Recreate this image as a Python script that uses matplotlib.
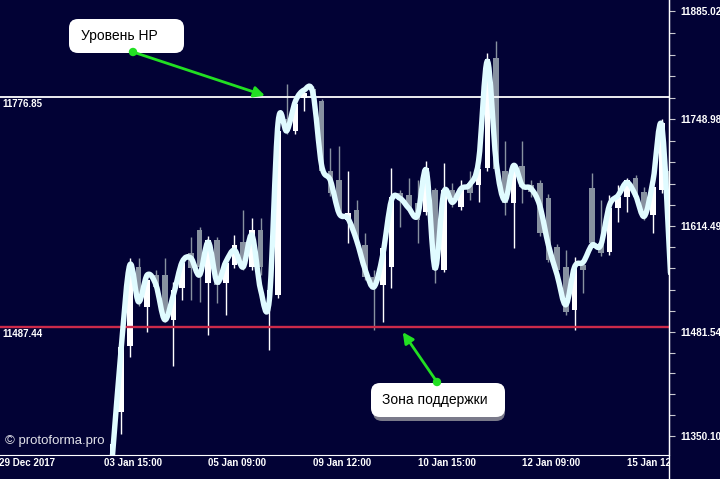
import numpy as np
import matplotlib.pyplot as plt
from matplotlib.path import Path
from matplotlib.patches import PathPatch, FancyBboxPatch, Circle
from matplotlib.lines import Line2D
from matplotlib.transforms import Bbox

# H4 candles, index 0 = "29 Dec 2017" at the left edge
first_bar = 12
opens = [11180.0, 11308.8, 11380.2, 11464.1, 11563.1, 11513.0, 11553.1, 11553.1, 11496.7, 11536.8,
         11580.6, 11609.4, 11543.0, 11596.9, 11543.0, 11565.6, 11594.4, 11563.1, 11609.4, 11521.7,
         11528.0, 11749.7, 11734.7, 11776.0, 11787.3, 11772.3, 11684.6, 11672.1, 11622.0, 11634.5,
         11590.6, 11550.6, 11540.5, 11563.1, 11655.8, 11653.3, 11643.3, 11632.0, 11659.5, 11559.3,
         11659.5, 11638.2, 11668.3, 11665.8, 11688.4, 11826.1, 11684.6, 11643.3, 11690.9, 11665.8,
         11668.3, 11649.5, 11588.1, 11563.1, 11509.2, 11565.6, 11662.0, 11593.1, 11581.9, 11637.0,
         11650.8, 11675.8, 11657.0, 11628.2, 11659.5, 11684.6]
highs = [11250.0, 11346.4, 11465.4, 11574.4, 11574.4, 11556.8, 11559.3, 11574.4, 11544.3, 11574.4,
         11600.7, 11613.2, 11601.9, 11600.7, 11574.4, 11603.2, 11634.5, 11624.5, 11624.5, 11540.5,
         11744.7, 11793.6, 11774.8, 11789.8, 11791.1, 11774.8, 11713.4, 11715.9, 11684.6, 11647.0,
         11605.7, 11559.3, 11590.6, 11688.4, 11659.5, 11674.6, 11672.1, 11697.1, 11662.0, 11694.6,
         11668.3, 11672.1, 11684.6, 11690.9, 11832.4, 11847.4, 11722.2, 11694.6, 11722.2, 11672.1,
         11672.1, 11654.5, 11591.9, 11584.4, 11575.6, 11569.3, 11682.1, 11647.0, 11653.3, 11665.8,
         11675.8, 11679.6, 11663.3, 11667.1, 11749.7, 11690.9]
lows = [11170.0, 11298.8, 11352.6, 11449.1, 11514.2, 11481.7, 11531.8, 11494.2, 11437.8, 11521.7,
        11521.7, 11519.2, 11477.9, 11518.0, 11503.0, 11561.8, 11559.3, 11559.3, 11553.1, 11459.1,
        11524.3, 11730.9, 11730.9, 11759.8, 11772.3, 11682.1, 11652.0, 11627.0, 11593.1, 11593.1,
        11546.8, 11484.2, 11494.2, 11536.8, 11613.2, 11632.0, 11593.1, 11628.2, 11543.0, 11556.8,
        11638.2, 11634.5, 11647.0, 11644.5, 11684.6, 11684.6, 11628.2, 11586.9, 11643.3, 11650.8,
        11601.9, 11569.3, 11553.1, 11503.0, 11484.2, 11530.5, 11589.4, 11576.9, 11578.1, 11619.5,
        11632.0, 11647.0, 11622.0, 11605.7, 11655.8, 11546.8]
closes = [11240.0, 11340.1, 11462.9, 11561.8, 11518.0, 11546.8, 11538.0, 11496.7, 11534.3, 11568.1,
          11561.8, 11563.1, 11596.9, 11540.5, 11568.1, 11590.6, 11563.1, 11609.4, 11563.1, 11534.3,
          11734.7, 11734.7, 11768.5, 11782.3, 11776.0, 11684.6, 11655.8, 11630.7, 11630.7, 11596.9,
          11550.6, 11538.0, 11586.9, 11650.8, 11647.0, 11637.0, 11622.0, 11688.4, 11559.3, 11659.5,
          11650.8, 11659.5, 11655.8, 11687.1, 11824.9, 11687.1, 11643.3, 11688.4, 11663.3, 11657.0,
          11605.7, 11571.9, 11559.3, 11506.7, 11561.8, 11559.3, 11593.1, 11580.6, 11637.0, 11650.8,
          11672.1, 11650.8, 11625.7, 11663.3, 11744.7, 11553.1]
# smoothed indicator line, one value per candle
curve = [11196.0, 11323.8, 11459.1, 11565.6, 11519.2, 11553.1, 11540.5, 11496.7, 11528.0, 11569.3,
         11574.4, 11553.1, 11594.4, 11544.3, 11569.3, 11584.4, 11563.1, 11603.2, 11534.3, 11521.7,
         11744.7, 11734.7, 11772.3, 11786.1, 11782.3, 11690.9, 11672.1, 11630.7, 11624.5, 11596.9,
         11559.3, 11538.0, 11578.1, 11647.0, 11649.5, 11637.0, 11628.2, 11684.6, 11561.8, 11657.0,
         11644.5, 11662.0, 11667.1, 11697.1, 11822.4, 11697.1, 11647.0, 11690.9, 11665.8, 11662.0,
         11640.8, 11590.6, 11553.1, 11515.5, 11563.1, 11569.3, 11590.6, 11590.6, 11640.8, 11653.3,
         11669.6, 11653.3, 11627.0, 11672.1, 11741.0, 11555.6]

resistance = 11776.85
support = 11487.44
price_ticks = [11885.02, 11748.98, 11614.49, 11481.54, 11350.10]
date_pos = [0, 12, 24, 36, 48, 60, 72]
date_labels = ["29 Dec 2017", "03 Jan 15:00", "05 Jan 09:00", "09 Jan 12:00",
               "10 Jan 15:00", "12 Jan 09:00", "15 Jan 12:00"]

bg = "#020235"
grey = "#8791a0"
green = "#22e022"
axfont = dict(family="Liberation Sans", weight="bold")

bars = np.arange(first_bar, first_bar + len(opens))
o = np.array(opens)
c = np.array(closes)
up = c >= o
cols = np.where(up, "white", grey)

fig = plt.figure(figsize=(7.2, 4.79), dpi=100, facecolor=bg)
ax = fig.add_axes([0, 24 / 479, 669 / 720, 455 / 479], facecolor=bg)
ax.set_xlim(0.115, 76.83)
ax.set_ylim(11326.2, 11899.5)

ax.vlines(bars, lows, highs, colors=cols, lw=1, zorder=2)
ax.bar(bars, np.maximum(np.abs(c - o), 0.8), bottom=np.minimum(o, c), width=0.65,
       color=cols, zorder=2)

ax.axhline(resistance, color="white", lw=1.3, zorder=3)
ax.axhline(support, color="#cc2a4a", lw=1.7, zorder=3)

# smooth curve through the indicator values (Catmull-Rom as bezier)
pts = np.column_stack([bars, curve])
ext = np.vstack([pts[0], pts, pts[-1]])
verts = [pts[0]]
codes = [Path.MOVETO]
for k in range(len(pts) - 1):
    p0, p1, p2, p3 = ext[k], ext[k + 1], ext[k + 2], ext[k + 3]
    verts += [p1 + (p2 - p0) / 6, p2 - (p3 - p1) / 6, p2]
    codes += [Path.CURVE4] * 3
ax.add_patch(PathPatch(Path(verts, codes), fill=False, ec="#e0fbff", lw=3.9,
                       capstyle="round", joinstyle="round", zorder=4))

for s in ["top", "left"]:
    ax.spines[s].set_visible(False)
ax.spines["bottom"].set_color("white")
ax.spines["right"].set_color("white")

ax.yaxis.tick_right()
ax.set_yticks(price_ticks)
ax.set_yticklabels(["%.2f" % v for v in price_ticks], color="white", fontsize=7.2, **axfont)
minor = []
for a, b in zip(price_ticks[:-1], price_ticks[1:]):
    minor += list(np.linspace(a, b, 6)[1:-1])
ax.set_yticks(minor, minor=True)
ax.tick_params(axis="y", which="both", colors="#c8c8d0", length=4, width=0.8, pad=4,
               labelcolor="white")
ax.set_xticks([])

clip = Bbox.from_extents(0, 0, 669, 479)
for p, lab in zip(date_pos, date_labels):
    t = ax.text(p, -0.018, lab, transform=ax.get_xaxis_transform(), ha="left", va="center",
                color="white", fontsize=7, **axfont)
    t.set_clip_box(clip)
    t.set_clip_on(True)

ax.text(0.004, resistance - 2, "%.2f" % resistance, transform=ax.get_yaxis_transform(),
        ha="left", va="top", color="white", fontsize=7, **axfont)
ax.text(0.004, support - 2, "%.2f" % support, transform=ax.get_yaxis_transform(),
        ha="left", va="top", color="white", fontsize=7, **axfont)

fig.add_artist(Line2D([669 / 720] * 2, [0, 1], transform=fig.transFigure, color="white", lw=1))

# overlay in pixel coordinates for the callouts
ov = fig.add_axes([0, 0, 1, 1])
ov.set_xlim(0, 720)
ov.set_ylim(479, 0)
ov.axis("off")

ov.add_patch(FancyBboxPatch((69, 19), 115, 34, boxstyle="round,pad=0,rounding_size=9",
                            fc="white", ec="none"))
ov.text(81, 36, "Уровень HP", fontsize=10, ha="left", va="center", color="black",
        family="Liberation Sans")
ov.annotate("", xy=(30.5, 11779), xycoords=ax.transData, xytext=(133, 52), textcoords="data",
            arrowprops=dict(arrowstyle="-|>", color=green, lw=2, mutation_scale=16,
                            shrinkA=0, shrinkB=0), annotation_clip=False)
ov.add_patch(Circle((133, 52), 3.5, color=green))

ov.add_patch(FancyBboxPatch((373, 387), 132, 34, boxstyle="round,pad=0,rounding_size=9",
                            fc="#7a7a8a", ec="none"))
ov.add_patch(FancyBboxPatch((371, 383), 134, 34, boxstyle="round,pad=0,rounding_size=9",
                            fc="white", ec="none"))
ov.text(382, 400, "Зона поддержки", fontsize=10, ha="left", va="center", color="black",
        family="Liberation Sans")
ov.annotate("", xy=(46.3, 11481), xycoords=ax.transData, xytext=(437, 382), textcoords="data",
            arrowprops=dict(arrowstyle="-|>", color=green, lw=2, mutation_scale=16,
                            shrinkA=0, shrinkB=0), annotation_clip=False)
ov.add_patch(Circle((437, 382), 3.5, color=green))

ov.text(5, 441, "© protoforma.pro", fontsize=9.5, ha="left", va="center", color="#e0e0e8",
        family="Liberation Sans")

fig.savefig("out.png", dpi=100, facecolor=bg)
plt.close()
